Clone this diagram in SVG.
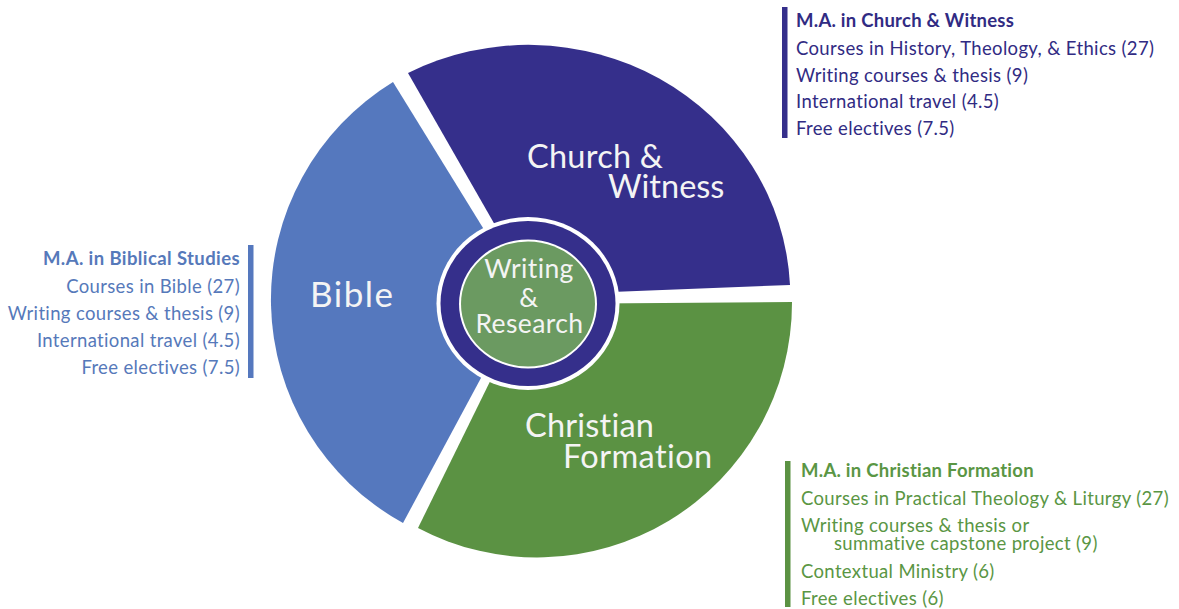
<svg xmlns="http://www.w3.org/2000/svg" width="1179" height="609" viewBox="0 0 1179 609">
<style>
text{font-family:Lato,"Open Sans","Liberation Sans",sans-serif}
.big{fill:#f4f4f4;font-size:32.5px}
.mid{fill:#f4f4f4;font-size:26.5px;letter-spacing:0.4px}
.hd{font-weight:bold;font-size:18.5px;letter-spacing:0.25px}
.it{font-size:18.5px;letter-spacing:0.35px}
.cw{fill:#312b83}
.bs{fill:#5679ba}
.cf{fill:#5a9644}
</style>
<rect width="1179" height="609" fill="#ffffff"/>
<g id="bible">
<path d="M525 296 L393 82 A255 255 0 0 0 403 523 Z" fill="#5578be"/>
<text class="big" x="310" y="307" style="font-size:35px;letter-spacing:1.5px">Bible</text>
</g>
<g id="church-witness">
<path d="M535 295 L408 73 A262 252 0 0 1 790 285 Z" fill="#352f8b"/>
<text class="big" x="527" y="168" style="letter-spacing:0.25px">Church &amp;</text>
<text class="big" x="608" y="198">Witness</text>
</g>
<g id="christian-formation">
<path d="M528 304 L792 302 A255 255 0 0 1 418 528 Z" fill="#5b9243"/>
<text class="big" x="525" y="437" style="letter-spacing:0.2px">Christian</text>
<text class="big" x="563" y="468" style="letter-spacing:0.4px">Formation</text>
</g>
<g id="writing-research">
<ellipse cx="528" cy="303.5" rx="91.5" ry="86.5" fill="#ffffff"/>
<ellipse cx="528" cy="303.5" rx="87.5" ry="82.5" fill="#352f8b"/>
<ellipse cx="528" cy="304" rx="69" ry="64.5" fill="#ffffff"/>
<ellipse cx="528" cy="304" rx="67" ry="62.5" fill="#6b9a61"/>
<text class="mid" x="529" y="278" text-anchor="middle">Writing</text>
<text class="mid" x="529" y="306.5" text-anchor="middle">&amp;</text>
<text class="mid" x="529.5" y="333" text-anchor="middle">Research</text>
</g>
<g id="legend-church">
<rect x="782" y="7" width="5.5" height="131" fill="#352f8b"/>
<text class="hd cw" x="796" y="27">M.A. in Church &amp; Witness</text>
<text class="it cw" x="796" y="55">Courses in History, Theology, &amp; Ethics (27)</text>
<text class="it cw" x="796" y="81.5">Writing courses &amp; thesis (9)</text>
<text class="it cw" x="796" y="108.3">International travel (4.5)</text>
<text class="it cw" x="796" y="135">Free electives (7.5)</text>
</g>
<g id="legend-bible">
<rect x="248" y="245" width="5.5" height="133" fill="#5578be"/>
<text class="hd bs" x="240" y="265" text-anchor="end" style="letter-spacing:0.4px">M.A. in Biblical Studies</text>
<text class="it bs" x="240" y="292.5" text-anchor="end">Courses in Bible (27)</text>
<text class="it bs" x="240" y="319.5" text-anchor="end">Writing courses &amp; thesis (9)</text>
<text class="it bs" x="240" y="346.5" text-anchor="end">International travel (4.5)</text>
<text class="it bs" x="240" y="373.5" text-anchor="end">Free electives (7.5)</text>
</g>
<g id="legend-formation">
<rect x="785" y="461" width="5.5" height="146" fill="#5b9243"/>
<text class="hd cf" x="801" y="476.5">M.A. in Christian Formation</text>
<text class="it cf" x="801" y="505">Courses in Practical Theology &amp; Liturgy (27)</text>
<text class="it cf" x="801" y="531.5">Writing courses &amp; thesis or</text>
<text class="it cf" x="834" y="550">summative capstone project (9)</text>
<text class="it cf" x="801" y="578.3">Contextual Ministry (6)</text>
<text class="it cf" x="801" y="605">Free electives (6)</text>
</g>
</svg>
